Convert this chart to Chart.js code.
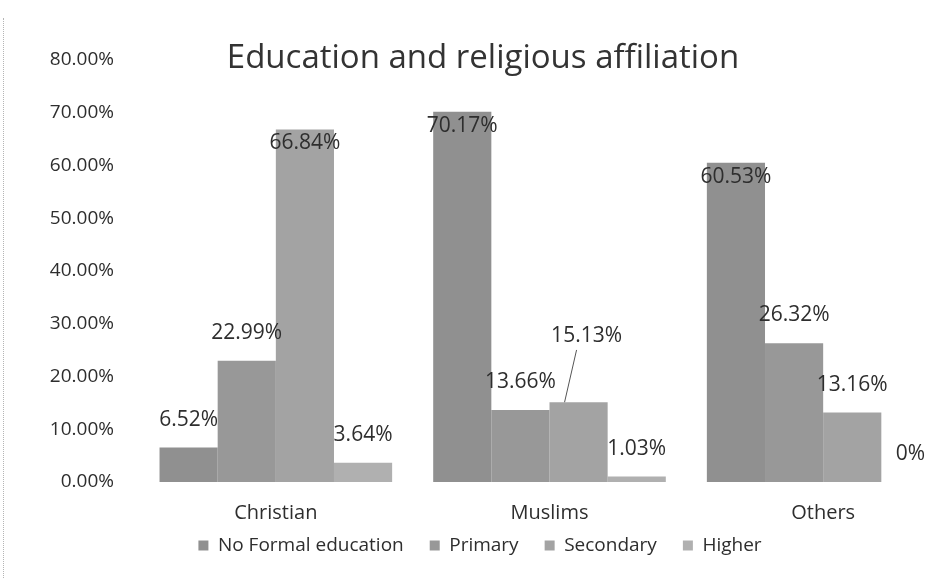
<!DOCTYPE html>
<html>
<head>
<meta charset="utf-8">
<title>Education and religious affiliation</title>
<script src="https://cdn.jsdelivr.net/npm/chart.js@4.4.1/dist/chart.umd.min.js"></script>
<style>
  html, body { margin: 0; padding: 0; background: #fff; overflow: hidden; }
  #wrap { position: relative; width: 966px; height: 580px; }
  #title { position: absolute; left: 0; top: 33px; width: 966px; text-align: center;
           font: 33px "Open Sans"; color: #333; }
  #edge { position: absolute; left: 3px; top: 18px; height: 560px; border-left: 1px dotted #b5b5b5; }
</style>
</head>
<body>
<div id="wrap">
  <canvas id="chartEdu" width="966" height="580"></canvas>
  <div id="title">Education and religious affiliation</div>
  <div id="edge"></div>
</div>
<script>
const religions = ["Christian", "Muslims", "Others"];
const noFormal = [0.0652, 0.7017, 0.6053];
const primary = [0.2299, 0.1366, 0.2632];
const secondary = [0.6684, 0.1513, 0.1316];
const higher = [0.0364, 0.0103, 0];
const levelNames = ["No Formal education", "Primary", "Secondary", "Higher"];
const levelColors = ["#909090", "#989898", "#a3a3a3", "#b0b0b0"];

function pct(v) {
    return v === 0 ? "0%" : (v * 100).toFixed(2) + "%";
}

// values written over/inside each bar, a label that would hit another one
// goes up and gets a leader line
const barLabels = {
    id: "barLabels",
    afterDatasetsDraw(chart) {
        const ctx = chart.ctx;
        const placed = [];
        ctx.save();
        ctx.font = '21px "Open Sans"';
        ctx.fillStyle = "#2e2e2e";
        ctx.strokeStyle = "#555";
        ctx.lineWidth = 1;
        ctx.textAlign = "center";
        ctx.textBaseline = "middle";
        chart.data.datasets.forEach((ds, i) => {
            chart.getDatasetMeta(i).data.forEach((bar, j) => {
                const v = ds.data[j];
                const txt = pct(v);
                const w = ctx.measureText(txt).width;
                let x = bar.x;
                let y = v > 0.5 ? bar.y + 14 : bar.y - 28;
                const hit = placed.find(p => Math.abs(p.x - x) < (p.w + w) / 2 && Math.abs(p.y - y) < 24);
                if (hit) {
                    y = hit.y - 46;
                    x = bar.x + 8;
                    ctx.beginPath();
                    ctx.moveTo(bar.x - 2, y + 14);
                    ctx.lineTo(bar.x - 14, bar.y);
                    ctx.stroke();
                }
                ctx.fillText(txt, x, y);
                placed.push({ x, y, w });
            });
        });
        ctx.restore();
    }
};

// legend sits closer to the category names than chart.js would put it
const liftLegend = {
    id: "liftLegend",
    afterLayout(chart) {
        chart.legend.top -= 15;
        chart.legend.bottom -= 15;
    }
};

const allSeries = [noFormal, primary, secondary, higher];

new Chart(document.getElementById("chartEdu"), {
    type: "bar",
    data: {
        labels: religions,
        datasets: allSeries.map((values, i) => ({
            label: levelNames[i],
            data: values,
            backgroundColor: levelColors[i],
            borderWidth: 0,
            barPercentage: 1,
            categoryPercentage: 0.85
        }))
    },
    options: {
        responsive: false,
        animation: false,
        layout: { padding: { top: 60, left: 0, right: 6, bottom: 0 } },
        plugins: {
            title: { display: false },
            tooltip: { enabled: false },
            legend: {
                position: "bottom",
                labels: {
                    boxWidth: 10,
                    boxHeight: 10,
                    padding: 26,
                    color: "#2e2e2e",
                    font: { family: "Open Sans", size: 19 }
                }
            }
        },
        scales: {
            x: {
                grid: { display: false, drawTicks: false },
                border: { display: false },
                afterFit(scale) { scale.height = 43; },
                ticks: {
                    padding: 19,
                    color: "#2e2e2e",
                    font: { family: "Open Sans", size: 20 }
                }
            },
            y: {
                min: 0,
                max: 0.8,
                grid: { display: false, drawTicks: false },
                border: { display: false },
                afterFit(scale) { scale.width = 139; },
                ticks: {
                    stepSize: 0.1,
                    padding: 25,
                    color: "#2e2e2e",
                    font: { family: "Open Sans", size: 19 },
                    callback: v => (v * 100).toFixed(2) + "%"
                }
            }
        }
    },
    plugins: [barLabels, liftLegend]
});
</script>
</body>
</html>
